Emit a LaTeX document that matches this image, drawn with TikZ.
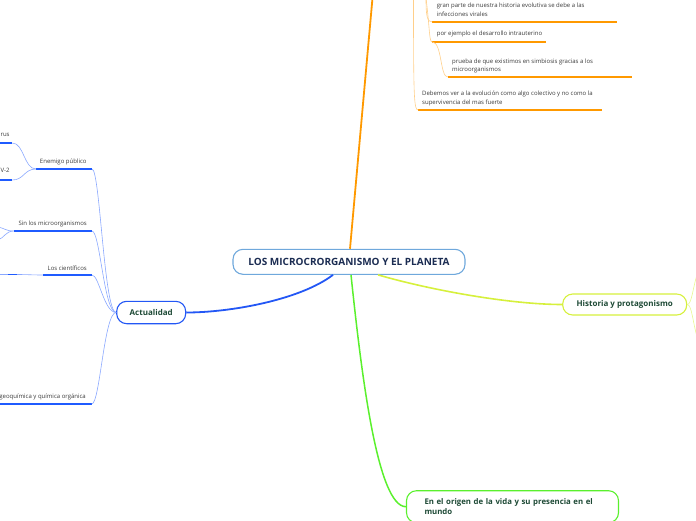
\documentclass[tikz,border=0pt]{standalone}
\usepackage{fontspec}
\setmainfont{Open Sans}
\usetikzlibrary{positioning}

\definecolor{orangemain}{HTML}{FF9900}
\definecolor{orangetwig}{HTML}{FFCF8A}
\definecolor{bluemain}{HTML}{2357F5}
\definecolor{bluetwig}{HTML}{8AA8FF}
\definecolor{blueline}{HTML}{1F5BFF}
\definecolor{limemain}{HTML}{D6F03C}
\definecolor{limetwig}{HTML}{E6F790}
\definecolor{greenmain}{HTML}{5AF02D}
\definecolor{rootedge}{HTML}{6FA8DC}
\definecolor{roottext}{HTML}{1B2C52}
\definecolor{topictext}{HTML}{1E4A36}
\definecolor{leaftext}{HTML}{3A3A3A}

\tikzset{
  topic/.style={rounded corners=10pt,fill=white,line width=1.1pt,text=topictext,inner sep=0pt,font=\fontsize{8}{10}\selectfont\bfseries},
  leaf/.style={inner sep=0pt,text=leaftext,align=left,font=\fontsize{6}{8.4}\selectfont},
  otwig/.style={orangetwig,line width=0.6pt},
  oline/.style={orangemain,line width=1.8pt},
  btwig/.style={bluetwig,line width=0.6pt},
  bline/.style={blueline,line width=1.8pt},
}

\begin{document}
\begin{tikzpicture}[x=1pt,y=-1pt]
\useasboundingbox (0,0) rectangle (696,520);

% main topics
\node[topic,draw=rootedge,text=roottext,minimum width=232pt,minimum height=25pt,font=\fontsize{10}{12}\selectfont\bfseries] (root) at (349,261.8) {LOS MICROCRORGANISMO Y EL PLANETA};
\node[topic,draw=bluemain,minimum width=69pt,minimum height=22.4pt] (act) at (151.2,312.5) {Actualidad};
\node[topic,draw=limemain,minimum width=124pt,minimum height=21pt] (hist) at (624.7,304.5) {Historia y protagonismo};
\node[topic,draw=greenmain,minimum width=212pt,minimum height=32pt,inner xsep=18pt,text width=176pt,align=left,font=\fontsize{7.8}{10}\selectfont\bfseries] (orig) at (512.5,506.7) {En el origen de la vida y su presencia en el\\mundo};

\coordinate (otop) at (372.5,-2);
\draw[orangemain,line width=1.8pt] ([xshift=1pt]root.north) -- (otop);
\draw[bluemain,line width=1.8pt] ([xshift=-16pt]root.south) .. controls (300,300) and (230,312.5) .. (act.east);
\draw[limemain,line width=1.6pt] ([xshift=29pt]root.south) .. controls (430,290) and (510,304.5) .. (hist.west);
\draw[greenmain,line width=1.5pt] ([xshift=2pt]root.south) .. controls (362,380) and (378,506.7) .. (orig.west);

% orange leaves
\coordinate (oa) at (426,-2);
\coordinate (ob) at (413.5,-2);
\node[leaf,anchor=base west] (gran) at (436.7,16.3) {gran parte de nuestra historia evolutiva se debe a las\\infecciones virales};
\node[leaf,anchor=base west] (por) at (436.7,35.7) {por ejemplo el desarrollo intrauterino};
\node[leaf,anchor=base west] (prueba) at (452,71.5) {prueba de que existimos en simbiosis gracias a los\\microorganismos};
\node[leaf,anchor=base west] (deb) at (422,104.3) {Debemos ver a la evolución como algo colectivo y no como la\\supervivencia del mas fuerte};
\coordinate (gran-l) at (432.3,22); \coordinate (gran-r) at (616.7,22);
\coordinate (por-l) at (432.3,42); \coordinate (por-r) at (546,42);
\coordinate (prueba-l) at (447.7,77); \coordinate (prueba-r) at (631.7,77);
\coordinate (deb-l) at (418.3,110); \coordinate (deb-r) at (601.7,110);
\draw[oline] (gran-l) -- (gran-r);
\draw[oline] (por-l) -- (por-r);
\draw[oline] (prueba-l) -- (prueba-r);
\draw[oline] (deb-l) -- (deb-r);
\draw[otwig] (oa) .. controls (426,16) and (427,22) .. (gran-l);
\draw[otwig] (oa) .. controls (430,30) and (429,42) .. (por-l);
\draw[otwig] (por-l) .. controls (442,42) and (440,77) .. (prueba-l);
\draw[otwig] (ob) .. controls (413.5,100) and (414,110) .. (deb-l);

% blue leaves
\node[leaf,anchor=base east] (enem) at (86.7,163.7) {Enemigo público};
\node[leaf,anchor=base west] (rus) at (0.4,136) {rus};
\node[leaf,anchor=base west] (cov) at (0.4,172.7) {V-2};
\node[leaf,anchor=base east] (sin) at (87,225.3) {Sin los microorganismos};
\node[leaf,anchor=base east] (cien) at (87,270.3) {Los científicos};
\node[leaf,anchor=base east] (geo) at (86,398.3) {geoquímica y química orgánica};
\coordinate (enem-l) at (36,169); \coordinate (enem-r) at (92,169);
\coordinate (rus-l) at (-2,143); \coordinate (rus-r) at (12.3,143);
\coordinate (cov-l) at (-2,180); \coordinate (cov-r) at (12.3,180);
\coordinate (sin-l) at (13.5,231); \coordinate (sin-r) at (92,231);
\coordinate (cien-l) at (43,275); \coordinate (cien-r) at (92,275);
\coordinate (sub-a) at (-2,274.5); \coordinate (sub-b) at (8,274.5); \coordinate (sub-c) at (17,274.5);
\coordinate (geo-l) at (-2,404); \coordinate (geo-r) at (91.7,404);
\coordinate (sin-u) at (-2,227); \coordinate (sin-d) at (-2,240);
\draw[bline] (enem-l) -- (enem-r);
\draw[bline] (rus-l) -- (rus-r);
\draw[bline] (cov-l) -- (cov-r);
\draw[bline] (sin-l) -- (sin-r);
\draw[bline] (cien-l) -- (cien-r);
\draw[bline] (sub-b) -- (sub-c);
\draw[bline] (geo-l) -- (geo-r);
\draw[btwig] (enem-r) .. controls (100,169) and (104,312.5) .. (act.west);
\draw[btwig] (sin-r) .. controls (100,231) and (104,312.5) .. (act.west);
\draw[btwig] (cien-r) .. controls (99,275) and (104,312.5) .. (act.west);
\draw[btwig] (geo-r) .. controls (100,404) and (104,312.5) .. (act.west);
\draw[btwig] (enem-l) .. controls (24,169) and (24,143) .. (rus-r);
\draw[btwig] (enem-l) .. controls (24,169) and (24,180) .. (cov-r);
\draw[btwig] (sin-l) .. controls (6,231) and (4,228) .. (sin-u);
\draw[btwig] (sin-l) .. controls (6,231) and (4,238) .. (sin-d);
\draw[btwig] (sub-a) -- (sub-b);
\draw[btwig] (sub-c) .. controls (28,274.5) and (32,275) .. (cien-l);

% lime twigs
\coordinate (hup) at (698,272);
\coordinate (hdn) at (698,340);
\draw[limetwig,line width=0.6pt] (hist.east) .. controls (692,304.5) and (693,285) .. (hup);
\draw[limetwig,line width=0.6pt] (hist.east) .. controls (692,304.5) and (693,325) .. (hdn);
\end{tikzpicture}
\end{document}
